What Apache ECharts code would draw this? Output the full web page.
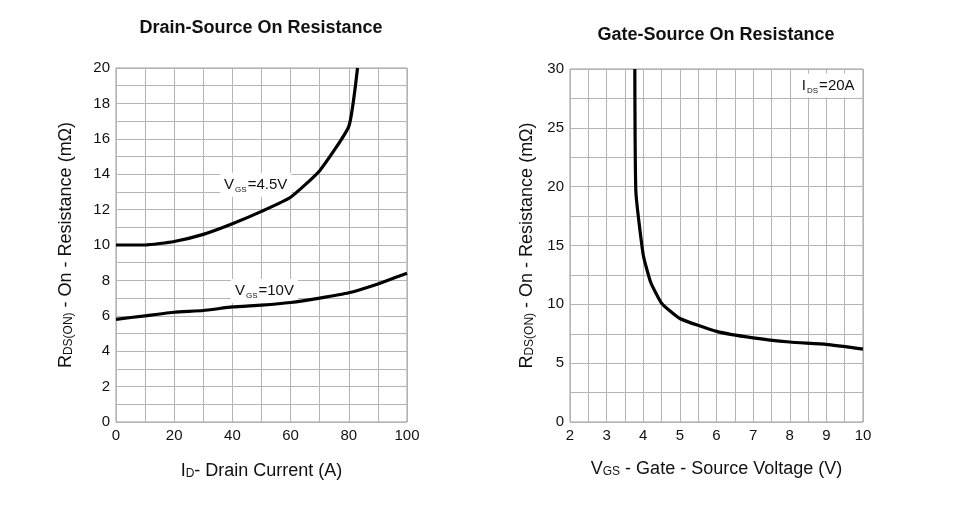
<!DOCTYPE html>
<html>
<head>
<meta charset="utf-8">
<script src="https://cdn.jsdelivr.net/npm/echarts@6/dist/echarts.min.js"></script>
<style>
    html, body { margin: 0; padding: 0; background: #fff; }
    #chart { width: 968px; height: 514px; }
</style>
</head>
<body>
<div id="chart"></div>
<script>
// drain current (A) vs on resistance (mOhm)
const drainCurrent45 = [0, 10, 20, 30, 40, 50, 60, 70, 80, 83]
const rdsVgs45 = [10.0, 10.0, 10.2, 10.6, 11.2, 11.9, 12.7, 14.2, 16.7, 20]
const drainCurrent10 = [0, 10, 20, 30, 40, 50, 60, 70, 80, 90, 100]
const rdsVgs10 = [5.8, 6.0, 6.2, 6.3, 6.5, 6.6, 6.75, 7.0, 7.3, 7.8, 8.4]

// gate voltage (V) vs on resistance (mOhm), Ids = 20A
const gateVoltage = [3.77, 3.8, 4.0, 4.2, 4.5, 5, 6, 7, 8, 9, 10]
const rdsGate = [30, 19.5, 14.2, 11.9, 10.1, 8.8, 7.7, 7.15, 6.8, 6.6, 6.2]

const leftTicksY = [0, 2, 4, 6, 8, 10, 12, 14, 16, 18, 20]
const rightTicksX = [2, 3, 4, 5, 6, 7, 8, 9, 10]

const zip = (xs, ys) => xs.map((x, i) => [x, ys[i]])

const FONT = 'Liberation Sans, Arial, sans-serif'
const gridColor = '#b4b4b4'

const chart = echarts.init(document.getElementById('chart'))

const valueAxisBase = {
    type: 'value',
    axisLine: { show: false },
    axisTick: { show: false },
    axisLabel: { color: '#111', fontSize: 15, fontFamily: FONT, margin: 6 },
    splitLine: { show: true, lineStyle: { color: gridColor, width: 1 } },
    minorTick: { show: false, splitNumber: 2 },
    minorSplitLine: { show: true, lineStyle: { color: gridColor, width: 1 } },
    nameLocation: 'middle',
    nameTextStyle: { color: '#111', fontFamily: FONT },
}

const nameRich = {
    a: { fontSize: 18, fontFamily: FONT, color: '#111' },
    s: { fontSize: 12, fontFamily: FONT, color: '#111', padding: [5, 0, 0, 0] },
}
const annRich = {
    a: { fontSize: 15, fontFamily: FONT, color: '#111' },
    s: { fontSize: 8, fontFamily: FONT, color: '#111', padding: [10, 1, 0, 1] },
}

function note(coord, text) {
    return {
        symbol: 'rect',
        symbolSize: 0,
        silent: true,
        data: [{
            coord: coord,
            label: {
                show: true,
                position: 'inside',
                formatter: text,
                rich: annRich,
                backgroundColor: '#fff',
                padding: [3, 4, 3, 4],
            },
        }],
    }
}

chart.setOption({
    animation: false,
    title: [
        {
            text: 'Drain-Source On Resistance',
            left: 256, top: 14, textAlign: 'center',
            textStyle: { fontSize: 18, fontWeight: 'bold', fontFamily: FONT, color: '#111' },
        },
        {
            text: 'Gate-Source On Resistance',
            left: 711, top: 21, textAlign: 'center',
            textStyle: { fontSize: 18, fontWeight: 'bold', fontFamily: FONT, color: '#111' },
        },
    ],
    grid: [
        { left: 116, top: 68, width: 291, height: 354, show: true, borderColor: '#9a9a9a', borderWidth: 1 },
        { left: 570, top: 69, width: 293, height: 353, show: true, borderColor: '#9a9a9a', borderWidth: 1 },
    ],
    xAxis: [
        Object.assign({}, valueAxisBase, {
            gridIndex: 0, min: 0, max: 100, interval: 20,
            name: '{a|I}{s|D}{a|- Drain Current (A)}',
            nameGap: 40,
            nameTextStyle: { rich: nameRich },
        }),
        Object.assign({}, valueAxisBase, {
            gridIndex: 1, min: rightTicksX[0], max: rightTicksX[rightTicksX.length - 1], interval: 1,
            name: '{a|V}{s|GS}{a| - Gate - Source Voltage (V)}',
            nameGap: 38,
            nameTextStyle: { rich: nameRich },
        }),
    ],
    yAxis: [
        Object.assign({}, valueAxisBase, {
            gridIndex: 0, min: leftTicksY[0], max: leftTicksY[leftTicksY.length - 1], interval: 2,
            name: '{a|R}{s|DS(ON)}{a| - On - Resistance (mΩ)}',
            nameGap: 41,
            nameTextStyle: { rich: nameRich },
        }),
        Object.assign({}, valueAxisBase, {
            gridIndex: 1, min: 0, max: 30, interval: 5,
            name: '{a|R}{s|DS(ON)}{a| - On - Resistance (mΩ)}',
            nameGap: 34,
            nameTextStyle: { rich: nameRich },
        }),
    ],
    series: [
        {
            name: 'VGS=4.5V',
            type: 'line',
            xAxisIndex: 0, yAxisIndex: 0,
            data: zip(drainCurrent45, rdsVgs45),
            showSymbol: false,
            smooth: 0.15,
            lineStyle: { color: '#000', width: 3.2 },
            markPoint: note([48, 13.4], '{a|V}{s|GS}{a|=4.5V}'),
            z: 5,
        },
        {
            name: 'VGS=10V',
            type: 'line',
            xAxisIndex: 0, yAxisIndex: 0,
            data: zip(drainCurrent10, rdsVgs10),
            showSymbol: false,
            smooth: 0.15,
            lineStyle: { color: '#000', width: 3.2 },
            markPoint: note([51, 7.4], '{a|V}{s|GS}{a|=10V}'),
            z: 5,
        },
        {
            name: 'Ids=20A',
            type: 'line',
            xAxisIndex: 1, yAxisIndex: 1,
            data: zip(gateVoltage, rdsGate),
            showSymbol: false,
            smooth: 0.15,
            lineStyle: { color: '#000', width: 3.2 },
            markPoint: note([9.05, 28.6], '{a|I}{s|DS}{a|=20A}'),
            z: 5,
        },
    ],
})
</script>
</body>
</html>
